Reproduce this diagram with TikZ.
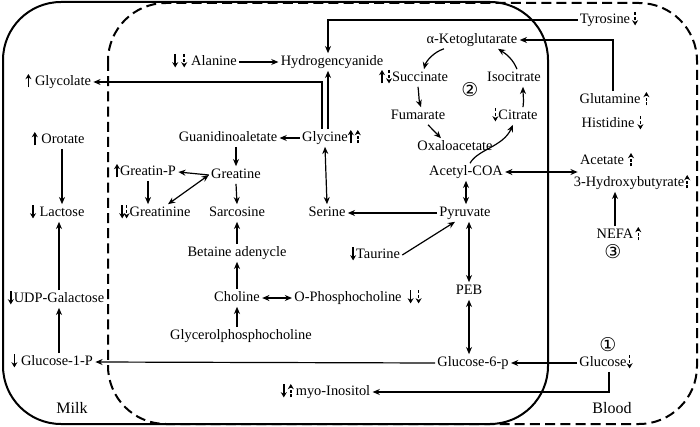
\documentclass[tikz,border=0pt]{standalone}
\usepackage{fontspec}
\setmainfont{Liberation Serif}
\newfontfamily\circfont{DejaVu Sans}
\usetikzlibrary{arrows.meta}
\tikzset{
  ind/.style={line width=0.75pt,-{Stealth[length=2.6pt,width=3pt]}},
  indd/.style={ind,dash pattern=on 1.5pt off 0.9pt}
}
\newcommand{\upS}{\tikz[baseline=0pt]\draw[ind] (0,-0.9pt) -- (0,5.8pt);}
\newcommand{\dnS}{\tikz[baseline=0pt]\draw[ind] (0,5.8pt) -- (0,-0.9pt);}
\newcommand{\upD}{\tikz[baseline=0pt]\draw[indd] (0,-0.9pt) -- (0,5.8pt);}
\newcommand{\dnD}{\tikz[baseline=0pt]\draw[indd] (0,5.8pt) -- (0,-0.9pt);}
\begin{document}
\begin{tikzpicture}[x=0.5pt,y=-0.5pt,
    every node/.style={font=\fontsize{7.2}{8.6}\selectfont,inner sep=1pt,text height=5pt,text depth=1.4pt},
    arr/.style={line width=0.6pt,-{Stealth[length=3.6pt,width=3pt]}},
    darr/.style={line width=0.6pt,{Stealth[length=3.6pt,width=3pt]}-{Stealth[length=3.6pt,width=3pt]}},
    compartment/.style={line width=1pt,rounded corners=29pt},
    circnum/.style={font=\circfont\fontsize{9.5}{10}\selectfont},
    place/.style={font=\fontsize{8}{9}\selectfont}]
  \useasboundingbox (0,0) rectangle (700,427);
  \draw [compartment] (3,2) rectangle (548,424);
  \draw [compartment,dash pattern=on 5pt off 2.6pt] (108,3) rectangle (697,424);

  \node (tyrosine) at (605,20) {Tyrosine\rlap{\hspace{1pt}\dnD}};
  \node (akg) at (472,40) {α-Ketoglutarate};
  \node (alanine) at (214,62) {\llap{\dnS\hspace{1.5pt}\dnD\hspace{2pt}}Alanine};
  \node (hcn) at (332,62) {Hydrogencyanide};
  \node (succinate) at (420,78) {\llap{\upS\hspace{0.5pt}\dnD}Succinate};
  \node (isocitrate) at (514,78) {Isocitrate};
  \node (glycolate) at (63,82) {\llap{\upS\hspace{1.8pt}}Glycolate};
  \node (fumarate) at (418,116) {Fumarate};
  \node (citrate) at (518,116) {\llap{\dnD}Citrate};
  \node (glutamine) at (610,100) {Glutamine\rlap{\hspace{1.5pt}\upD}};
  \node (histidine) at (608,124) {Histidine\rlap{\hspace{1.5pt}\dnD}};
  \node (guan) at (228,138) {Guanidinoaletate};
  \node (glycine) at (325,138) {Glycine\rlap{\upS\hspace{0.5pt}\upD}};
  \node (orotate) at (63,140) {\llap{\upS\hspace{1.8pt}}Orotate};
  \node (oxalo) at (455,147) {Oxaloacetate};
  \node (acetate) at (602,161) {Acetate\rlap{\hspace{2pt}\upD}};
  \node (greatinP) at (148,172) {\llap{\upS}Greatin-P};
  \node (greatine) at (236,175) {Greatine};
  \node (acetyl) at (466,172) {Acetyl-COA};
  \node (hydroxy) at (629,183) {3-Hydroxybutyrate\rlap{\upD}};
  \node (lactose) at (62,213) {\llap{\dnS\hspace{1.8pt}}Lactose};
  \node (greatinine) at (160,213) {\llap{\dnS\hspace{-0.8pt}\dnD}Greatinine};
  \node (sarcosine) at (237,213) {Sarcosine};
  \node (serine) at (327,213) {Serine};
  \node (pyruvate) at (465,213) {Pyruvate};
  \node (nefa) at (615,235) {NEFA\rlap{\hspace{1pt}\upD}};
  \node (betaine) at (237,253) {Betaine adenycle};
  \node (taurine) at (378,255) {\llap{\dnS}Taurine};
  \node[circnum] (cthree) at (613,255) {③};
  \node (peb) at (469,291) {PEB};
  \node (choline) at (237,298) {Choline};
  \node (ophos) at (348,298) {O-Phosphocholine\rlap{\hspace{3pt}\dnS\hspace{1pt}\dnD}};
  \node (udp) at (59,299) {\llap{\dnS}UDP-Galactose};
  \node (glycerol) at (241,336) {Glycerolphosphocholine};
  \node[circnum] (cone) at (608,348) {①};
  \node (glconep) at (57,362) {\llap{\dnS\hspace{1.8pt}}Glucose-1-P};
  \node (glcsixp) at (473,363) {Glucose-6-p};
  \node (glucose) at (603,363) {Glucose\rlap{\dnD}};
  \node (myo) at (333,392) {\llap{\dnS\hspace{0.5pt}\upD\hspace{1pt}}myo-Inositol};
  \node[circnum] (ctwo) at (470,93) {②};
  \node[place] (milk) at (72,410) {Milk};
  \node[place] (blood) at (612,410) {Blood};

  \draw [arr] (tyrosine.west) -| ([xshift=-2pt]hcn.north);
  \draw [arr] (alanine.east) -- (hcn.west);
  \draw [arr] ([xshift=1.5pt]glycine.north) -- ([xshift=1.5pt]glycine.north |- hcn.south);
  \draw [arr] ([xshift=-1.5pt]glycine.north) |- (glycolate.east);
  \draw [arr] (glycine.west) -- (guan.east);
  \draw [arr] (greatine.north |- guan.south) -- (greatine.north);
  \draw [arr] (greatine.west) -- (greatinP.east);
  \draw [arr] (greatinP.south) -- (greatinP.south |- greatinine.north);
  \draw [darr] ([xshift=4pt]greatinine.north) -- (greatine.west);
  \draw [arr] (greatine.south) -- (sarcosine.north);
  \draw [arr] (betaine.north) -- (sarcosine.south);
  \draw [arr] (choline.north) -- (betaine.south);
  \draw [arr] (choline.south |- glycerol.north) -- (choline.south);
  \draw [darr] (choline.east) -- (ophos.west);
  \draw [darr] (glycine.south) -- (serine.north);
  \draw [arr] (pyruvate.west) -- (serine.east);
  \draw [arr] (taurine.east) -- ([xshift=-5pt]pyruvate.south);
  \draw [darr] (acetyl.south) -- (acetyl.south |- pyruvate.north);
  \draw [darr] (peb.north |- pyruvate.south) -- (peb.north);
  \draw [darr] (peb.south) -- (peb.south |- glcsixp.north);
  \draw [arr] (glucose.west) -- (glcsixp.east);
  \draw [arr] (glcsixp.west) -- (glconep.east);
  \draw [arr] ([xshift=3pt]glucose.south) |- (myo.east);
  \draw [arr] (udp.south |- glconep.north) -- (udp.south);
  \draw [arr] (udp.north) -- (udp.north |- lactose.south);
  \draw [arr] (lactose.north |- orotate.south) -- (lactose.north);
  \draw [arr] ([xshift=1.5pt]glutamine.north) |- (akg.east);
  \draw [darr] (acetyl.east) -- (acetyl.east -| acetate.west);
  \draw [arr] (nefa.north) -- (nefa.north |- hydroxy.south);

  \draw [arr] ([xshift=-14pt]akg.south) .. controls +(-10,3) and +(2,-8) .. ([xshift=2pt]succinate.north);
  \draw [arr] ([xshift=-1pt]succinate.south) .. controls +(1,8) and +(-2,-6) .. ([xshift=1.5pt]fumarate.north);
  \draw [arr] ([xshift=5pt]fumarate.south) -- ([xshift=-7pt]oxalo.north);
  \draw [arr] ([xshift=2pt]acetyl.north) .. controls +(8,-14) and +(-10,22) .. ([xshift=-2.5pt]citrate.south);
  \draw [arr] ([xshift=2.5pt]citrate.north) .. controls +(1,-7) and +(0,7) .. ([xshift=4.5pt]isocitrate.south);
  \draw [arr] ([xshift=1.5pt]isocitrate.north) .. controls +(-4,-10) and +(8,5) .. ([xshift=13pt]akg.south);
\end{tikzpicture}
\end{document}
